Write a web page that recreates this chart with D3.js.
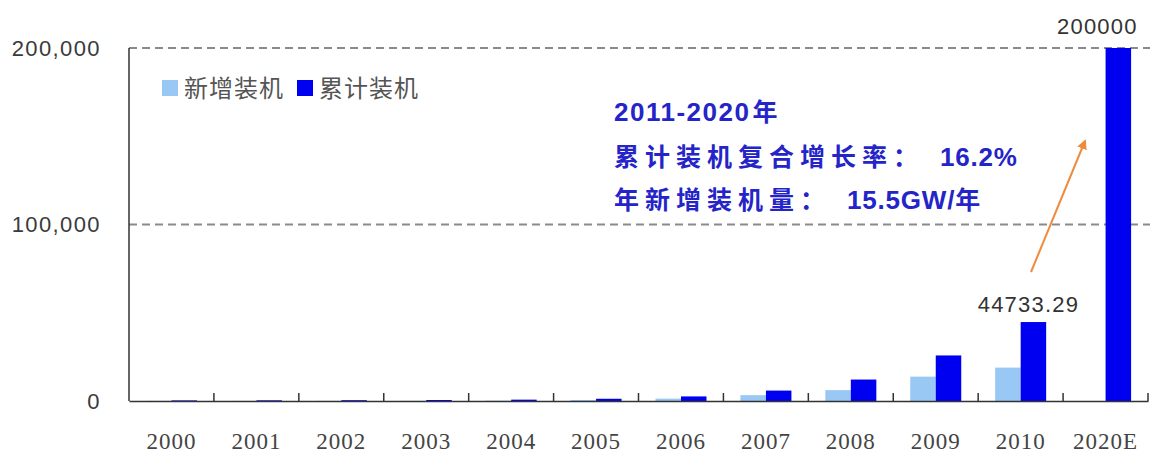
<!DOCTYPE html>
<html>
<head>
<meta charset="UTF-8">
<title>风电装机</title>
<script src="https://d3js.org/d3.v7.min.js"></script>
<style>
  body { margin: 0; background: #fff; }
  svg { display: block; }
</style>
</head>
<body>
<svg></svg>
<script>
  let width = 1150,
    height = 454;

  // data (MW)
  const years = ["2000", "2001", "2002", "2003", "2004", "2005", "2006", "2007", "2008", "2009", "2010", "2020E"];
  const newInstalled = [77, 57, 68, 98, 198, 507, 1337, 3311, 6154, 13803, 18928, 0];
  const cumInstalled = [346, 400, 468, 567, 764, 1266, 2599, 5906, 12153, 25805, 44733.29, 200000];
  const yTicks = [0, 100000, 200000];
  const seriesNames = ["新增装机", "累计装机"];
  const colors = ["#99c8f5", "#0000f0"];

  let svg = d3.select("svg")
    .attr("width", width)
    .attr("height", height);

  let x0 = d3.scaleBand().domain(years).range([129, 1148]);
  let x1 = d3.scaleBand().domain(["new", "cum"]).range([17, 68]);
  let y = d3.scaleLinear().domain([0, 200000]).range([401, 48]);

  // gridlines
  svg.append("g")
    .selectAll("line")
    .data(yTicks.filter(d => d > 0))
    .enter()
    .append("line")
    .attr("x1", 129)
    .attr("x2", width)
    .attr("y1", d => y(d))
    .attr("y2", d => y(d))
    .attr("stroke", "#8a8a8a")
    .attr("stroke-width", 2)
    .attr("stroke-dasharray", "8,5");

  // y labels
  svg.append("g")
    .selectAll("text")
    .data(yTicks)
    .enter()
    .append("text")
    .attr("x", 101)
    .attr("y", d => y(d))
    .attr("dy", "0.36em")
    .attr("text-anchor", "end")
    .attr("font-family", "Liberation Sans, Arial, sans-serif")
    .attr("font-size", 22)
    .attr("letter-spacing", 1.4)
    .attr("fill", "#3a3a3a")
    .text(d => d3.format(",")(d));

  // bars
  let groups = svg.append("g")
    .selectAll("g")
    .data(years.map((yr, i) => ({ yr, vals: [["new", newInstalled[i]], ["cum", cumInstalled[i]]] })))
    .enter()
    .append("g")
    .attr("transform", d => "translate(" + x0(d.yr) + ",0)");

  groups.selectAll("rect")
    .data(d => d.vals.filter(v => v[1] > 0))
    .enter()
    .append("rect")
    .attr("x", d => x1(d[0]))
    .attr("width", x1.bandwidth())
    .attr("y", d => y(d[1]))
    .attr("height", d => y(0) - y(d[1]))
    .attr("fill", d => d[0] == "new" ? colors[0] : colors[1]);

  // axes
  svg.append("line")
    .attr("x1", 129).attr("x2", 129)
    .attr("y1", y(200000)).attr("y2", y(0))
    .attr("stroke", "#333").attr("stroke-width", 1.5);

  let xAxis = d3.axisBottom(x0).tickSize(0).tickFormat(d => d);
  let gx = svg.append("g")
    .attr("transform", "translate(0," + y(0) + ")")
    .call(xAxis);
  gx.select(".domain").attr("stroke", "#333").attr("stroke-width", 1.5);
  gx.selectAll("text")
    .attr("dy", 0)
    .attr("y", 48)
    .attr("font-family", "Liberation Serif, Times New Roman, serif")
    .attr("font-size", 23)
    .attr("letter-spacing", 1)
    .attr("fill", "#444");

  // category boundary ticks (pointing up)
  svg.append("g")
    .selectAll("line")
    .data(years.slice(1).concat(["end"]))
    .enter()
    .append("line")
    .attr("x1", d => d == "end" ? x0.range()[1] : x0(d))
    .attr("x2", d => d == "end" ? x0.range()[1] : x0(d))
    .attr("y1", y(0))
    .attr("y2", y(0) - 8)
    .attr("stroke", "#333")
    .attr("stroke-width", 1.5);

  // value labels
  let labelIdx = [10, 11];
  let labelShift = { 10: -5, 11: -21 };
  svg.append("g")
    .selectAll("text")
    .data(labelIdx)
    .enter()
    .append("text")
    .attr("x", i => x0(years[i]) + x1("cum") + x1.bandwidth() / 2 + labelShift[i])
    .attr("y", i => y(cumInstalled[i]) - (i == 11 ? 14 : 10))
    .attr("text-anchor", "middle")
    .attr("font-family", "Liberation Sans, Arial, sans-serif")
    .attr("font-size", 22)
    .attr("letter-spacing", 1.2)
    .attr("fill", "#333")
    .text(i => cumInstalled[i]);

  // legend
  let legend = svg.append("g").attr("transform", "translate(162,88)");
  let lx = [0, 135];
  seriesNames.forEach((name, i) => {
    legend.append("rect")
      .attr("x", lx[i]).attr("y", -8)
      .attr("width", 16).attr("height", 16)
      .attr("fill", colors[i]);
    legend.append("text")
      .attr("x", lx[i] + 22)
      .attr("y", 0)
      .attr("dy", "0.36em")
      .attr("font-family", "Noto Sans CJK SC, sans-serif")
      .attr("font-size", 24)
      .attr("letter-spacing", 1)
      .attr("fill", "#555")
      .text(name);
  });

  // annotation
  let note = svg.append("text")
    .attr("font-family", "Liberation Sans, Arial, Noto Sans CJK SC, sans-serif")
    .attr("font-weight", "bold")
    .attr("fill", "#2424c8");
  // [text, letter-spacing, font-size, dx]
  let lines = [
    [["2011-2020", 1.5, 26, 0], ["年", 0, 25, 2]],
    [["累计装机复合增长率：", 6, 25, 0], ["16.2%", 0.8, 26, 16]],
    [["年新增装机量：", 6, 25, 0], ["15.5GW/", 0.8, 26, 16], ["年", 0, 25, 0]]
  ];
  let lineY = [121, 166, 209];
  lines.forEach((parts, li) => {
    parts.forEach((p, pi) => {
      let t = note.append("tspan")
        .attr("letter-spacing", p[1])
        .attr("font-size", p[2])
        .text(p[0]);
      if (pi == 0) t.attr("x", 614).attr("y", lineY[li]);
      else t.attr("dx", p[3]);
    });
  });

  // arrow
  svg.append("defs").append("marker")
    .attr("id", "arr")
    .attr("viewBox", "0 0 10 10")
    .attr("refX", 8).attr("refY", 5)
    .attr("markerWidth", 5).attr("markerHeight", 5)
    .attr("orient", "auto")
    .append("path")
    .attr("d", "M0,0L10,5L0,10z")
    .attr("fill", "#f08a3c");
  svg.append("line")
    .attr("x1", 1031).attr("y1", 272)
    .attr("x2", 1085).attr("y2", 141)
    .attr("stroke", "#f08a3c")
    .attr("stroke-width", 2)
    .attr("marker-end", "url(#arr)");
</script>
</body>
</html>
